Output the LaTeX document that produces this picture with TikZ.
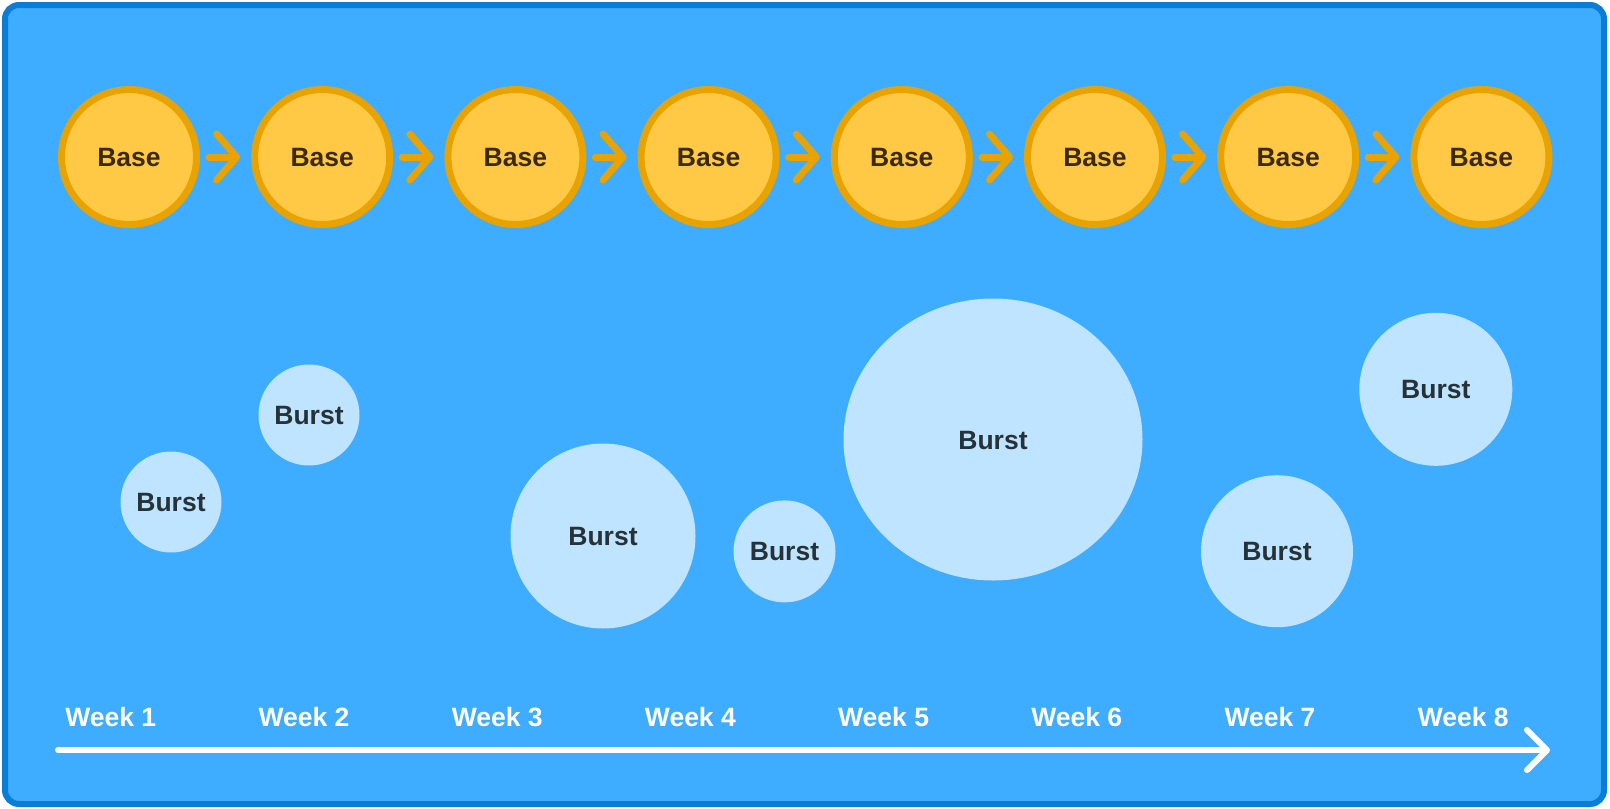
\documentclass[tikz,border=0pt]{standalone}
\usepackage{fontspec}
\setmainfont{Liberation Sans}
\usepackage{tikz}
\usetikzlibrary{calc, shapes.geometric, arrows.meta}

\definecolor{panelblue}{HTML}{3EACFF}
\definecolor{paneledge}{HTML}{0A7ED6}
\definecolor{basefill}{HTML}{FFC845}
\definecolor{baseedge}{HTML}{E8A300}
\definecolor{basetext}{HTML}{3B2A06}
\definecolor{burstfill}{HTML}{BFE4FF}
\definecolor{bursttext}{HTML}{263238}

\newcommand{\labelfont}{\fontsize{26.5}{30}\selectfont\bfseries}

\tikzset{
	basecircle/.style={circle, draw=baseedge, fill=basefill, line width=7pt, minimum size=135pt, inner sep=0pt, text height=19pt, text depth=0pt, text=basetext, font=\labelfont},
	burstcircle/.style={circle, fill=burstfill, inner sep=0pt, text height=19pt, text depth=0pt, text=bursttext, font=\labelfont},
	weeklabel/.style={text=white, font=\labelfont, anchor=base, inner sep=0pt},
	stepchevron/.style={draw=baseedge, line width=7pt, line cap=round, -{Straight Barb[length=20pt, width=46pt, round]}, shorten <=9pt, shorten >=11pt},
	timeline/.style={draw=white, line width=6pt, line cap=round, -{Straight Barb[length=20pt, width=40pt, round]}}
}

\begin{document}
\begin{tikzpicture}[x=1pt, y=-1pt]
			\def\gap{193.2};
			\def\basey{157};
			\def\weeky{726.7};

			\useasboundingbox (0,0) rectangle (1610,809);
			\draw [draw=paneledge, fill=panelblue, line width=6pt, rounded corners=14pt] (5,5) rectangle (1604,804);

			% base row
			\begin{scope}
				\node [basecircle] (base 1) at (129+0*\gap,\basey) {Base};
				\node [basecircle] (base 2) at (129+1*\gap,\basey) {Base};
				\node [basecircle] (base 3) at (129+2*\gap,\basey) {Base};
				\node [basecircle] (base 4) at (129+3*\gap,\basey) {Base};
				\node [basecircle] (base 5) at (129+4*\gap,\basey) {Base};
				\node [basecircle] (base 6) at (129+5*\gap,\basey) {Base};
				\node [basecircle] (base 7) at (129+6*\gap,\basey) {Base};
				\node [basecircle] (base 8) at (129+7*\gap,\basey) {Base};

				\draw [stepchevron] (base 1) -- (base 2);
				\draw [stepchevron] (base 2) -- (base 3);
				\draw [stepchevron] (base 3) -- (base 4);
				\draw [stepchevron] (base 4) -- (base 5);
				\draw [stepchevron] (base 5) -- (base 6);
				\draw [stepchevron] (base 6) -- (base 7);
				\draw [stepchevron] (base 7) -- (base 8);
			\end{scope}

			% bursts
			\begin{scope}
				\node [burstcircle, minimum size=101pt] (burst 1) at (171,502) {Burst};
				\node [burstcircle, minimum size=101pt] (burst 2) at (309,415) {Burst};
				\node [burstcircle, minimum size=185pt] (burst 3) at (603,536) {Burst};
				\node [burstcircle, minimum size=102pt] (burst 4) at (784.5,551.4) {Burst};
				\node [burstcircle, ellipse, minimum width=299pt, minimum height=282pt] (burst 5) at (993,439.5) {Burst};
				\node [burstcircle, minimum size=152pt] (burst 6) at (1277,551.2) {Burst};
				\node [burstcircle, minimum size=153pt] (burst 7) at (1435.8,389.3) {Burst};
			\end{scope}

			% weeks
			\begin{scope}
				\node [weeklabel] (week 1) at (110.8+0*\gap,\weeky) {Week 1};
				\node [weeklabel] (week 2) at (110.8+1*\gap,\weeky) {Week 2};
				\node [weeklabel] (week 3) at (110.8+2*\gap,\weeky) {Week 3};
				\node [weeklabel] (week 4) at (110.8+3*\gap,\weeky) {Week 4};
				\node [weeklabel] (week 5) at (110.8+4*\gap,\weeky) {Week 5};
				\node [weeklabel] (week 6) at (110.8+5*\gap,\weeky) {Week 6};
				\node [weeklabel] (week 7) at (110.8+6*\gap,\weeky) {Week 7};
				\node [weeklabel] (week 8) at (110.8+7*\gap,\weeky) {Week 8};

				\coordinate (timeline start) at (58,750);
				\coordinate (timeline end) at (1550,750);
				\draw [timeline] (timeline start) -- (timeline end);
			\end{scope}
		\end{tikzpicture}
\end{document}
